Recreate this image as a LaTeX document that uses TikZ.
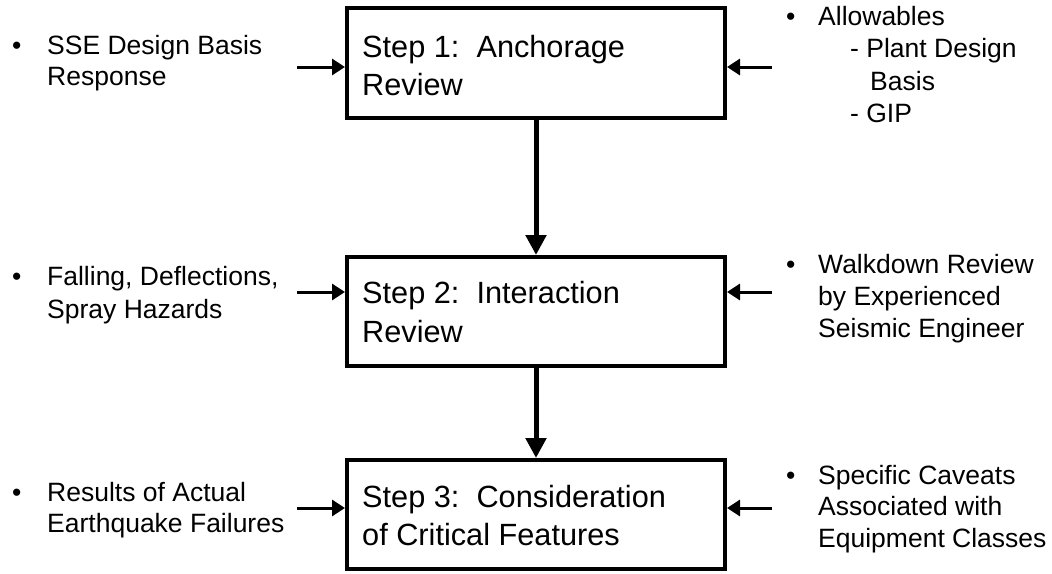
\documentclass[tikz,border=0pt]{standalone}
\usepackage{fontspec}
\setmainfont{Liberation Sans}
\usetikzlibrary{arrows.meta}
\begin{document}
\begin{tikzpicture}[x=1pt,y=-1pt,
  stepbox/.style={draw, line width=4pt, minimum width=378pt, minimum height=109pt, inner sep=0pt, fill=white},
  steptext/.style={anchor=base west, inner sep=0pt, align=left, font=\fontsize{30.7}{38}\selectfont},
  sidetext/.style={anchor=base west, inner sep=0pt, align=left, font=\fontsize{26.5}{31}\selectfont},
  harrow/.style={line width=3pt, -{Triangle[length=13pt,width=16pt]}},
  varrow/.style={line width=5pt, -{Triangle[length=20pt,width=20pt]}}]
\useasboundingbox (0,0) rectangle (1052,573);
% boxes
\node[stepbox, minimum height=110pt] (b1) at (536,63) {};
\node[stepbox] (b2) at (536,311.5) {};
\node[stepbox] (b3) at (536,514.5) {};
% box texts (anchored at last baseline)
\node[steptext] (t1) at (362,95) {Step 1:\ \ Anchorage\\Review};
\node[steptext] (t2) at (362,342) {Step 2:\ \ Interaction\\[1pt]Review};
\node[steptext] (t3) at (362,545) {Step 3:\ \ Consideration\\of Critical Features};
% vertical arrows
\draw[varrow] (b1.south) -- (b2.north);
\draw[varrow] (b2.south) -- (b3.north);
% left inputs
\node[sidetext] (l1) at (47,85) {\llap{\makebox[35pt][l]{•}}SSE Design Basis\\Response};
\node[sidetext] (l2) at (47,318) {\llap{\makebox[35pt][l]{•}}Falling, Deflections,\\[2pt]Spray Hazards};
\node[sidetext] (l3) at (47,532) {\llap{\makebox[35pt][l]{•}}Results of Actual\\Earthquake Failures};
% right inputs
\node[sidetext] (r1) at (818,122) {\llap{\makebox[32pt][l]{•}}Allowables\\[1pt]\hspace*{32pt}- Plant Design\\[2pt]\hspace*{52pt}Basis\\[1pt]\hspace*{32pt}- GIP};
\node[sidetext] (r2) at (818,337) {\llap{\makebox[32pt][l]{•}}Walkdown Review\\[1pt]by Experienced\\[1pt]Seismic Engineer};
\node[sidetext] (r3) at (818,547) {\llap{\makebox[32pt][l]{•}}Specific Caveats\\Associated with\\[1pt]Equipment Classes};
% horizontal arrow start points
\coordinate (a1) at (297,67);
\coordinate (a2) at (297,292);
\coordinate (a3) at (297,508);
\coordinate (c1) at (772,67);
\coordinate (c2) at (772,292);
\coordinate (c3) at (772,508);
\draw[harrow] (a1) -- (a1 -| b1.west);
\draw[harrow] (a2) -- (a2 -| b2.west);
\draw[harrow] (a3) -- (a3 -| b3.west);
\draw[harrow] (c1) -- (c1 -| b1.east);
\draw[harrow] (c2) -- (c2 -| b2.east);
\draw[harrow] (c3) -- (c3 -| b3.east);
\end{tikzpicture}
\end{document}
